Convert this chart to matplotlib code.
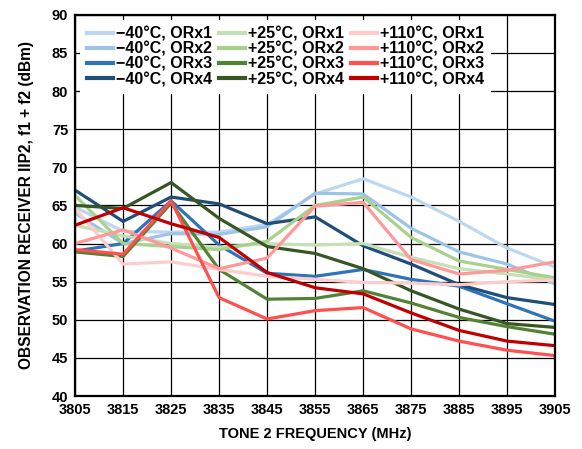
import matplotlib

matplotlib.use("Agg")

import matplotlib.pyplot as plt

plt.rcParams["font.family"] = ["Liberation Sans", "DejaVu Sans"]
plt.rcParams["font.weight"] = "bold"

freq = [3805, 3815, 3825, 3835, 3845, 3855, 3865, 3875, 3885, 3895, 3905]

m40_orx1 = [64.8, 61.6, 61.5, 61.5, 62.5, 66.5, 68.5, 66.1, 62.9, 59.4, 56.9]
m40_orx2 = [64.0, 60.0, 61.3, 61.2, 62.2, 66.6, 66.5, 62.0, 58.9, 57.3, 54.7]
m40_orx3 = [59.0, 60.0, 65.6, 59.8, 56.1, 55.7, 56.6, 55.3, 54.4, 52.1, 49.8]
m40_orx4 = [67.0, 62.9, 66.1, 65.2, 62.6, 63.5, 59.7, 57.3, 54.6, 52.9, 52.0]

p25_orx1 = [62.4, 61.0, 60.0, 59.5, 60.0, 59.8, 60.0, 58.2, 56.7, 56.0, 55.2]
p25_orx2 = [66.3, 60.0, 59.6, 59.2, 60.3, 65.0, 66.1, 60.8, 57.7, 56.6, 55.5]
p25_orx3 = [58.9, 58.3, 65.3, 56.6, 52.7, 52.8, 53.8, 52.2, 50.3, 49.1, 48.1]
p25_orx4 = [65.0, 64.6, 68.0, 63.3, 59.6, 58.7, 56.7, 53.8, 51.4, 49.5, 49.0]

p110_orx1 = [64.6, 57.3, 57.6, 56.6, 55.7, 55.3, 54.9, 54.8, 54.6, 55.0, 55.2]
p110_orx2 = [60.0, 61.8, 59.4, 56.7, 58.1, 64.9, 65.4, 57.9, 56.0, 56.5, 57.6]
p110_orx3 = [59.2, 58.6, 65.6, 52.9, 50.1, 51.2, 51.6, 48.8, 47.2, 46.0, 45.3]
p110_orx4 = [62.4, 64.7, 62.6, 60.8, 56.2, 54.2, 53.4, 50.9, 48.6, 47.2, 46.6]

series = [
    ("\u221240°C, ORx1", m40_orx1, "#bdd7ee"),
    ("\u221240°C, ORx2", m40_orx2, "#9dc3e6"),
    ("\u221240°C, ORx3", m40_orx3, "#2e75b6"),
    ("\u221240°C, ORx4", m40_orx4, "#1f4e79"),
    ("+25°C, ORx1", p25_orx1, "#c5e0b4"),
    ("+25°C, ORx2", p25_orx2, "#a9d18e"),
    ("+25°C, ORx3", p25_orx3, "#548235"),
    ("+25°C, ORx4", p25_orx4, "#375623"),
    ("+110°C, ORx1", p110_orx1, "#ffcccc"),
    ("+110°C, ORx2", p110_orx2, "#ff9999"),
    ("+110°C, ORx3", p110_orx3, "#ff4f4f"),
    ("+110°C, ORx4", p110_orx4, "#c00000"),
]

fig = plt.figure(figsize=(5.82, 4.49), dpi=100)
ax = fig.add_axes([0.129, 0.118, 0.825, 0.849])

for label, values, color in series:
    ax.plot(freq, values, color=color, lw=2.3, label=label)

ax.set_xlim(3805, 3905)
ax.set_ylim(40, 90)
ax.set_xticks(freq)
ax.set_yticks(range(40, 91, 5))
ax.grid(True, color="black", lw=0.9)
ax.set_axisbelow(True)
ax.tick_params(length=0, labelsize=10.5, pad=5)
for spine in ax.spines.values():
    spine.set_linewidth(1.6)

ax.set_xlabel("TONE 2 FREQUENCY (MHz)", fontsize=10.5, fontweight="bold", labelpad=7)
ax.set_ylabel("OBSERVATION RECEIVER IIP2, f1 + f2 (dBm)", fontsize=11.2,
              fontweight="bold", labelpad=13)

leg = ax.legend(loc="upper left", ncol=3, fontsize=11.5, frameon=True,
                fancybox=False, framealpha=1, edgecolor="none",
                handlelength=1.6, handletextpad=0.2, columnspacing=0.45,
                labelspacing=0.0, borderaxespad=0.3, borderpad=0.45)
for line in leg.get_lines():
    line.set_linewidth(3)

fig.savefig("out.png", dpi=100)
plt.close(fig)
